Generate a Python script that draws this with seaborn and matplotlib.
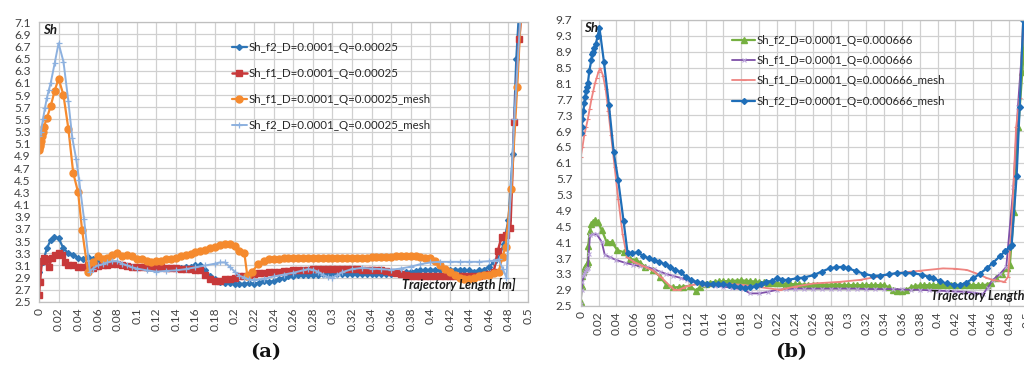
import numpy as np
import matplotlib
matplotlib.use("Agg")
import matplotlib.pyplot as plt
import seaborn as sns
from matplotlib.ticker import FixedLocator, FuncFormatter

# ---------------- (a) Q = 0.00025 ----------------
A_F2_X = [0.000, 0.004, 0.008, 0.012, 0.015, 0.020, 0.025, 0.030, 0.035, 0.040, 0.045, 0.050,
          0.055, 0.060, 0.065, 0.070, 0.075, 0.080, 0.085, 0.090, 0.095, 0.100, 0.105, 0.110,
          0.115, 0.120, 0.125, 0.130, 0.135, 0.140, 0.145, 0.150, 0.155, 0.160, 0.165, 0.170,
          0.175, 0.180, 0.185, 0.190, 0.195, 0.200, 0.205, 0.210, 0.215, 0.220, 0.225, 0.230,
          0.235, 0.240, 0.245, 0.250, 0.255, 0.260, 0.265, 0.270, 0.275, 0.280, 0.285, 0.290,
          0.295, 0.300, 0.305, 0.310, 0.315, 0.320, 0.325, 0.330, 0.335, 0.340, 0.345, 0.350,
          0.355, 0.360, 0.365, 0.370, 0.375, 0.380, 0.385, 0.390, 0.395, 0.400, 0.405, 0.410,
          0.415, 0.420, 0.425, 0.430, 0.435, 0.440, 0.445, 0.450, 0.455, 0.460, 0.465, 0.470,
          0.475, 0.480, 0.4845, 0.488, 0.492]
A_F2_Y = [3.00, 3.15, 3.38, 3.52, 3.57, 3.55, 3.38, 3.30, 3.28, 3.22, 3.20, 3.24,
          3.20, 3.17, 3.15, 3.14, 3.13, 3.12, 3.10, 3.09, 3.08, 3.07, 3.07, 3.06,
          3.06, 3.06, 3.06, 3.06, 3.06, 3.06, 3.06, 3.07, 3.08, 3.10, 3.10, 3.02,
          2.92, 2.87, 2.83, 2.81, 2.81, 2.80, 2.80, 2.80, 2.81, 2.80, 2.82, 2.85,
          2.83, 2.84, 2.88, 2.90, 2.92, 2.93, 2.94, 2.95, 2.95, 2.95, 2.95, 2.96,
          2.96, 2.96, 2.96, 2.96, 2.96, 2.96, 2.96, 2.96, 2.96, 2.96, 2.96, 2.96,
          2.96, 2.96, 2.97, 2.98, 2.99, 3.00, 3.01, 3.02, 3.03, 3.03, 3.03, 3.03,
          3.03, 3.03, 3.03, 3.03, 3.02, 3.02, 3.00, 3.02, 3.03, 3.08, 3.15, 3.22,
          3.45, 3.85, 4.93, 6.49, 7.60]

A_F1_X = [0.000, 0.001, 0.003, 0.005, 0.007, 0.010, 0.013, 0.016, 0.020, 0.024, 0.027, 0.030,
          0.035, 0.040, 0.045, 0.050, 0.055, 0.060, 0.065, 0.070, 0.075, 0.080, 0.085, 0.090,
          0.095, 0.100, 0.105, 0.110, 0.115, 0.120, 0.125, 0.130, 0.135, 0.140, 0.145, 0.150,
          0.155, 0.160, 0.165, 0.170, 0.175, 0.180, 0.185, 0.190, 0.195, 0.200, 0.205, 0.210,
          0.215, 0.220, 0.225, 0.230, 0.235, 0.240, 0.245, 0.250, 0.255, 0.260, 0.265, 0.270,
          0.275, 0.280, 0.285, 0.290, 0.295, 0.300, 0.305, 0.310, 0.315, 0.320, 0.325, 0.330,
          0.335, 0.340, 0.345, 0.350, 0.355, 0.360, 0.365, 0.370, 0.375, 0.380, 0.385, 0.390,
          0.395, 0.400, 0.405, 0.410, 0.415, 0.420, 0.425, 0.430, 0.435, 0.440, 0.445, 0.450,
          0.455, 0.460, 0.465, 0.469, 0.473, 0.477, 0.482, 0.486, 0.491, 0.495]
A_F1_Y = [2.62, 2.83, 3.18, 3.22, 3.20, 3.07, 3.22, 3.27, 3.30, 3.27, 3.15, 3.10,
          3.10, 3.08, 3.08, 3.10, 3.06, 3.09, 3.10, 3.11, 3.12, 3.12, 3.10, 3.09,
          3.08, 3.08, 3.08, 3.08, 3.07, 3.07, 3.07, 3.06, 3.06, 3.06, 3.05, 3.05,
          3.04, 3.03, 3.02, 2.95, 2.87, 2.85, 2.85, 2.87, 2.88, 2.90, 2.92, 2.93,
          2.95, 2.96, 2.97, 2.98, 2.99, 3.00, 3.00, 3.01, 3.01, 3.02, 3.02, 3.03,
          3.03, 3.04, 3.04, 3.04, 3.04, 3.04, 3.04, 3.04, 3.04, 3.04, 3.04, 3.03,
          3.03, 3.03, 3.03, 3.02, 3.01, 3.00, 2.98, 2.96, 2.94, 2.93, 2.93, 2.93,
          2.92, 2.92, 2.92, 2.92, 2.92, 2.92, 2.92, 2.92, 2.92, 2.92, 2.92, 2.93,
          2.95, 2.96, 3.00, 3.33, 3.57, 3.60, 3.72, 5.45, 6.82, 7.60]

A_F1M_X = [0.000, 0.0005, 0.001, 0.0015, 0.002, 0.003, 0.004, 0.005, 0.008, 0.012, 0.016, 0.020,
           0.025, 0.030, 0.035, 0.040, 0.044, 0.050, 0.055, 0.060, 0.065, 0.070, 0.075, 0.080,
           0.085, 0.090, 0.095, 0.100, 0.105, 0.110, 0.115, 0.120, 0.125, 0.130, 0.135, 0.140,
           0.145, 0.150, 0.155, 0.160, 0.165, 0.170, 0.175, 0.180, 0.185, 0.190, 0.195, 0.200,
           0.205, 0.210, 0.213, 0.218, 0.224, 0.230, 0.235, 0.240, 0.245, 0.250, 0.255, 0.260,
           0.265, 0.270, 0.275, 0.280, 0.285, 0.290, 0.295, 0.300, 0.305, 0.310, 0.315, 0.320,
           0.325, 0.330, 0.335, 0.340, 0.345, 0.350, 0.355, 0.360, 0.365, 0.370, 0.375, 0.380,
           0.385, 0.390, 0.395, 0.400, 0.405, 0.410, 0.415, 0.420, 0.425, 0.430, 0.435, 0.440,
           0.445, 0.450, 0.455, 0.460, 0.465, 0.470, 0.474, 0.477, 0.483, 0.489, 0.493]
A_F1M_Y = [5.00, 5.03, 5.06, 5.10, 5.15, 5.22, 5.30, 5.38, 5.52, 5.72, 5.97, 6.17,
           5.90, 5.35, 4.62, 4.30, 3.69, 3.00, 3.15, 3.25, 3.20, 3.23, 3.27, 3.30,
           3.25, 3.27, 3.25, 3.20, 3.20, 3.17, 3.16, 3.17, 3.18, 3.20, 3.21, 3.23,
           3.25, 3.27, 3.29, 3.32, 3.34, 3.36, 3.38, 3.40, 3.43, 3.46, 3.45, 3.42,
           3.33, 3.30, 2.93, 3.00, 3.12, 3.17, 3.20, 3.21, 3.21, 3.22, 3.22, 3.22,
           3.22, 3.22, 3.22, 3.22, 3.22, 3.22, 3.22, 3.22, 3.23, 3.23, 3.23, 3.23,
           3.23, 3.23, 3.23, 3.24, 3.24, 3.24, 3.24, 3.24, 3.25, 3.25, 3.25, 3.25,
           3.25, 3.24, 3.23, 3.22, 3.17, 3.10, 3.05, 3.00, 2.95, 2.90, 2.87, 2.88,
           2.90, 2.92, 2.94, 2.95, 2.97, 3.00, 3.24, 3.41, 4.36, 6.04, 7.30]

A_F2M_X = [0.000, 0.002, 0.004, 0.006, 0.008, 0.010, 0.012, 0.016, 0.020, 0.025, 0.030, 0.034,
           0.038, 0.041, 0.046, 0.052, 0.055, 0.060, 0.065, 0.070, 0.075, 0.080, 0.085, 0.090,
           0.095, 0.100, 0.110, 0.120, 0.130, 0.140, 0.150, 0.160, 0.170, 0.180, 0.185, 0.190,
           0.195, 0.200, 0.205, 0.210, 0.215, 0.220, 0.230, 0.240, 0.250, 0.260, 0.270, 0.275,
           0.280, 0.285, 0.290, 0.295, 0.300, 0.305, 0.310, 0.320, 0.330, 0.340, 0.350, 0.360,
           0.370, 0.380, 0.390, 0.400, 0.410, 0.420, 0.430, 0.440, 0.450, 0.460, 0.465, 0.470,
           0.474, 0.478, 0.486, 0.493]
A_F2M_Y = [5.22, 5.30, 5.50, 5.68, 5.85, 5.98, 6.10, 6.42, 6.75, 6.45, 5.80, 5.20,
           4.85, 4.50, 3.87, 3.00, 3.05, 3.10, 3.12, 3.15, 3.17, 3.17, 3.13, 3.10,
           3.07, 3.05, 3.02, 3.00, 3.01, 3.02, 3.04, 3.07, 3.10, 3.13, 3.15, 3.15,
           3.08, 3.00, 2.93, 2.90, 2.87, 2.86, 2.88, 2.92, 2.95, 2.98, 3.02, 3.04,
           3.03, 3.00, 2.95, 2.91, 2.90, 2.94, 2.99, 3.04, 3.06, 3.05, 3.04, 3.03,
           3.05, 3.08, 3.12, 3.15, 3.16, 3.16, 3.16, 3.16, 3.16, 3.17, 3.18, 3.20,
           3.05, 2.90, 5.50, 7.40]

# ---------------- (b) Q = 0.000666 ----------------
B_F2_X = [0.000, 0.001, 0.002, 0.003, 0.004, 0.005, 0.006, 0.007, 0.008, 0.0085, 0.010, 0.012,
          0.014, 0.016, 0.019, 0.0235, 0.029, 0.035, 0.041, 0.048, 0.055, 0.062, 0.067, 0.072,
          0.081, 0.089, 0.096, 0.104, 0.110, 0.115, 0.122, 0.129, 0.134, 0.140, 0.145, 0.150,
          0.155, 0.160, 0.165, 0.170, 0.175, 0.180, 0.185, 0.190, 0.195, 0.200, 0.205, 0.210,
          0.215, 0.220, 0.225, 0.230, 0.235, 0.240, 0.245, 0.250, 0.255, 0.260, 0.265, 0.270,
          0.275, 0.280, 0.285, 0.290, 0.295, 0.300, 0.305, 0.310, 0.315, 0.320, 0.325, 0.330,
          0.335, 0.340, 0.345, 0.350, 0.355, 0.360, 0.365, 0.370, 0.375, 0.380, 0.385, 0.390,
          0.395, 0.400, 0.405, 0.410, 0.415, 0.420, 0.425, 0.430, 0.435, 0.440, 0.445, 0.450,
          0.455, 0.460, 0.466, 0.472, 0.478, 0.481, 0.4856, 0.4905, 0.495, 0.500]
B_F2_Y = [2.60, 3.00, 3.25, 3.35, 3.42, 3.47, 3.50, 3.55, 3.60, 4.00, 4.37, 4.55,
          4.62, 4.65, 4.62, 4.41, 4.11, 4.10, 3.90, 3.85, 3.67, 3.66, 3.58, 3.48,
          3.40, 3.23, 3.02, 2.96, 2.97, 2.98, 3.00, 2.88, 2.98, 3.04, 3.08, 3.10,
          3.11, 3.12, 3.12, 3.13, 3.13, 3.14, 3.13, 3.12, 3.11, 3.10, 3.09, 3.08,
          3.07, 3.06, 3.06, 3.05, 3.05, 3.04, 3.04, 3.03, 3.03, 3.03, 3.03, 3.03,
          3.03, 3.03, 3.03, 3.03, 3.02, 3.02, 3.02, 3.02, 3.02, 3.02, 3.02, 3.02,
          3.02, 3.02, 2.97, 2.90, 2.86, 2.86, 2.90, 2.96, 3.00, 3.01, 3.02, 3.02,
          3.02, 3.02, 3.02, 3.02, 3.02, 3.02, 3.02, 3.02, 3.02, 3.02, 3.02, 3.02,
          3.03, 3.08, 3.19, 3.30, 3.45, 3.53, 4.87, 7.00, 8.40, 9.90]

B_F1_X = [0.000, 0.001, 0.002, 0.003, 0.004, 0.005, 0.006, 0.007, 0.008, 0.009, 0.0104, 0.014,
          0.018, 0.0235, 0.027, 0.033, 0.040, 0.050, 0.059, 0.066, 0.074, 0.082, 0.089, 0.096,
          0.104, 0.112, 0.119, 0.128, 0.137, 0.150, 0.160, 0.170, 0.182, 0.190, 0.200, 0.210,
          0.220, 0.230, 0.240, 0.250, 0.260, 0.270, 0.280, 0.290, 0.300, 0.310, 0.320, 0.330,
          0.340, 0.350, 0.360, 0.370, 0.380, 0.390, 0.400, 0.410, 0.420, 0.430, 0.440, 0.451,
          0.456, 0.462, 0.470, 0.477, 0.485, 0.490, 0.497]
B_F1_Y = [2.55, 2.90, 3.10, 3.25, 3.30, 3.35, 3.40, 3.42, 3.45, 3.80, 4.28, 4.30,
          4.30, 4.11, 3.78, 3.72, 3.65, 3.58, 3.53, 3.50, 3.48, 3.42, 3.36, 3.30,
          3.25, 3.20, 3.15, 3.08, 3.02, 3.00, 2.98, 2.95, 2.91, 2.81, 2.81, 2.85,
          2.90, 2.92, 2.93, 2.93, 2.93, 2.93, 2.93, 2.93, 2.93, 2.93, 2.92, 2.92,
          2.92, 2.92, 2.91, 2.90, 2.90, 2.89, 2.88, 2.87, 2.86, 2.85, 2.83, 2.79,
          2.95, 3.15, 3.30, 3.48, 5.50, 7.50, 9.70]

B_F1M_X = [0.000, 0.002, 0.004, 0.006, 0.008, 0.010, 0.012, 0.014, 0.016, 0.018, 0.020, 0.022,
           0.025, 0.028, 0.031, 0.034, 0.038, 0.042, 0.047, 0.052, 0.060, 0.070, 0.080, 0.090,
           0.100, 0.105, 0.110, 0.115, 0.120, 0.130, 0.140, 0.160, 0.180, 0.200, 0.223, 0.240,
           0.261, 0.290, 0.313, 0.330, 0.354, 0.380, 0.406, 0.420, 0.433, 0.445, 0.455, 0.462,
           0.470, 0.475, 0.479, 0.483, 0.488, 0.492, 0.496]
B_F1M_Y = [6.25, 6.50, 6.80, 7.00, 7.20, 7.45, 7.70, 7.90, 8.10, 8.25, 8.40, 8.48,
           8.30, 7.95, 7.40, 6.80, 6.00, 5.20, 4.30, 3.72, 3.60, 3.50, 3.40, 3.22,
           3.00, 2.90, 2.90, 2.95, 3.00, 3.04, 3.05, 3.05, 3.03, 2.97, 2.90, 2.98,
           3.06, 3.10, 3.15, 3.22, 3.32, 3.38, 3.44, 3.43, 3.40, 3.30, 3.20, 3.15,
           3.12, 3.10, 3.23, 4.50, 7.00, 7.73, 9.80]

B_F2M_X = [0.000, 0.001, 0.002, 0.003, 0.004, 0.005, 0.006, 0.007, 0.008, 0.0097, 0.012, 0.013,
           0.014, 0.015, 0.017, 0.019, 0.021, 0.026, 0.0317, 0.037, 0.042, 0.048, 0.0526, 0.058,
           0.064, 0.070, 0.076, 0.082, 0.088, 0.094, 0.100, 0.106, 0.112, 0.118, 0.124, 0.130,
           0.136, 0.142, 0.148, 0.154, 0.160, 0.166, 0.172, 0.178, 0.184, 0.190, 0.196, 0.202,
           0.208, 0.214, 0.220, 0.226, 0.232, 0.242, 0.250, 0.261, 0.270, 0.279, 0.286, 0.294,
           0.300, 0.309, 0.318, 0.328, 0.336, 0.345, 0.354, 0.364, 0.373, 0.382, 0.390, 0.395,
           0.403, 0.410, 0.418, 0.425, 0.432, 0.440, 0.447, 0.455, 0.462, 0.470, 0.476, 0.481,
           0.483, 0.4886, 0.492, 0.496]
B_F2M_Y = [6.84, 7.00, 7.20, 7.40, 7.60, 7.75, 7.90, 8.00, 8.10, 8.42, 8.70, 8.85,
           8.90, 9.00, 9.10, 9.30, 9.51, 8.65, 7.55, 6.37, 5.67, 4.64, 3.82, 3.82,
           3.85, 3.75, 3.70, 3.65, 3.60, 3.55, 3.48, 3.40, 3.35, 3.22, 3.15, 3.10,
           3.06, 3.05, 3.05, 3.05, 3.04, 3.02, 3.00, 2.97, 2.95, 2.96, 3.00, 3.05,
           3.10, 3.12, 3.20, 3.15, 3.15, 3.19, 3.21, 3.27, 3.36, 3.44, 3.47, 3.48,
           3.44, 3.37, 3.30, 3.25, 3.26, 3.29, 3.32, 3.33, 3.32, 3.28, 3.23, 3.19,
           3.12, 3.06, 3.03, 3.02, 3.08, 3.19, 3.30, 3.44, 3.58, 3.75, 3.88, 3.99,
           4.03, 5.77, 7.50, 9.70]

LABELS_A = ["Sh_f2_D=0.0001_Q=0.00025", "Sh_f1_D=0.0001_Q=0.00025",
            "Sh_f1_D=0.0001_Q=0.00025_mesh", "Sh_f2_D=0.0001_Q=0.00025_mesh"]
LABELS_B = ["Sh_f2_D=0.0001_Q=0.000666", "Sh_f1_D=0.0001_Q=0.000666",
            "Sh_f1_D=0.0001_Q=0.000666_mesh", "Sh_f2_D=0.0001_Q=0.000666_mesh"]

X_TICKS = [round(0.02 * i, 2) for i in range(26)]
Y_TICKS_A = [round(2.5 + 0.2 * i, 1) for i in range(24)]
Y_TICKS_B = [round(2.5 + 0.4 * i, 1) for i in range(19)]

sns.set_theme(style="whitegrid")
plt.rcParams['font.family'] = ['Lato', 'DejaVu Sans']
plt.rcParams['axes.edgecolor'] = '#BFBFBF'
plt.rcParams['grid.color'] = '#D0D0D0'

W, H = 1024, 365
fig = plt.figure(figsize=(W / 100, H / 100), dpi=100)
ax_a = fig.add_axes([39 / W, 1 - 302 / H, (528 - 39) / W, (302 - 22) / H])
ax_b = fig.add_axes([580.7 / W, 1 - 305.7 / H, (1026.8 - 580.7) / W, (305.7 - 20) / H])


def draw(ax, x, y, label, color, marker, ms, lw, mfc=None, mec=None, mew=1.0):
    sns.lineplot(x=x, y=y, ax=ax, label=label, color=color, marker=marker,
                 markersize=ms, linewidth=lw, estimator=None, sort=False,
                 markerfacecolor=mfc or color, markeredgecolor=mec or color,
                 markeredgewidth=mew)


draw(ax_a, A_F2_X, A_F2_Y, LABELS_A[0], '#2E75B6', 'D', 3.0, 1.6)
draw(ax_a, A_F1_X, A_F1_Y, LABELS_A[1], '#C7393A', 's', 4.6, 1.8)
draw(ax_a, A_F1M_X, A_F1M_Y, LABELS_A[2], '#F58A2E', 'o', 5.0, 1.6)
draw(ax_a, A_F2M_X, A_F2M_Y, LABELS_A[3], '#8DB1DF', '+', 5.0, 1.4, mew=0.9)

draw(ax_b, B_F2_X, B_F2_Y, LABELS_B[0], '#76B041', '^', 4.2, 1.6)
draw(ax_b, B_F1_X, B_F1_Y, LABELS_B[1], '#7E4FA8', 'x', 3.2, 1.3, mec='#BBA5DA', mew=0.8)
draw(ax_b, B_F1M_X, B_F1M_Y, LABELS_B[2], '#EE8480', '_', 3.0, 1.3, mew=0.8)
draw(ax_b, B_F2M_X, B_F2M_Y, LABELS_B[3], '#1F6EB8', 'D', 3.0, 1.6)

fmt = FuncFormatter(lambda v, p: f"{v:g}")
for ax, yt, ylim in ((ax_a, Y_TICKS_A, (2.5, 7.1)), (ax_b, Y_TICKS_B, (2.5, 9.7))):
    ax.set_xlim(0, 0.5)
    ax.set_ylim(*ylim)
    ax.xaxis.set_major_locator(FixedLocator(X_TICKS))
    ax.yaxis.set_major_locator(FixedLocator(yt))
    ax.xaxis.set_major_formatter(fmt)
    ax.yaxis.set_major_formatter(fmt)
    ax.tick_params(axis='x', labelrotation=90, labelsize=8.6, colors='#404040', length=0, pad=4)
    ax.tick_params(axis='y', labelsize=8.6, colors='#404040', length=0, pad=6)
    ax.grid(True, color='#D0D0D0', linewidth=0.9)
    ax.set_xlabel("")
    ax.set_ylabel("")
    for s in ax.spines.values():
        s.set_color('#BFBFBF')
        s.set_linewidth(0.9)
    ax.text(0.008, 0.992, "Sh", transform=ax.transAxes, fontsize=9.5, fontweight='bold',
            fontstyle='italic', va='top', ha='left', color='#1A1A1A')

ax_a.text(0.975, 0.04, "Trajectory Length [m]", transform=ax_a.transAxes, fontsize=9,
          fontweight='bold', fontstyle='italic', ha='right', va='bottom', color='#1A1A1A')
ax_b.text(0.785, 0.012, "Trajectory Length [m]", transform=ax_b.transAxes, fontsize=9,
          fontweight='bold', fontstyle='italic', ha='left', va='bottom', color='#1A1A1A')

for ax, anchor, hl, ls in ((ax_a, (232 / W, 1 - 42 / H), 1.3, 1.3),
                           (ax_b, (732 / W, 1 - 35 / H), 2.0, 0.8)):
    h, l = ax.get_legend_handles_labels()
    ax.legend(h, l, loc='upper left', bbox_to_anchor=anchor, bbox_transform=fig.transFigure,
              frameon=False, fontsize=8.3, handlelength=hl, labelspacing=ls,
              handletextpad=0.1, borderaxespad=0, borderpad=0, labelcolor='#262626')

fig.text(266 / W, 1 - 352 / H, "(a)", fontsize=14, fontweight='bold', family='DejaVu Serif',
         ha='center', va='center', color='#111111')
fig.text(791 / W, 1 - 352 / H, "(b)", fontsize=14, fontweight='bold', family='DejaVu Serif',
         ha='center', va='center', color='#111111')

fig.savefig("out.png", dpi=100, facecolor='white')
